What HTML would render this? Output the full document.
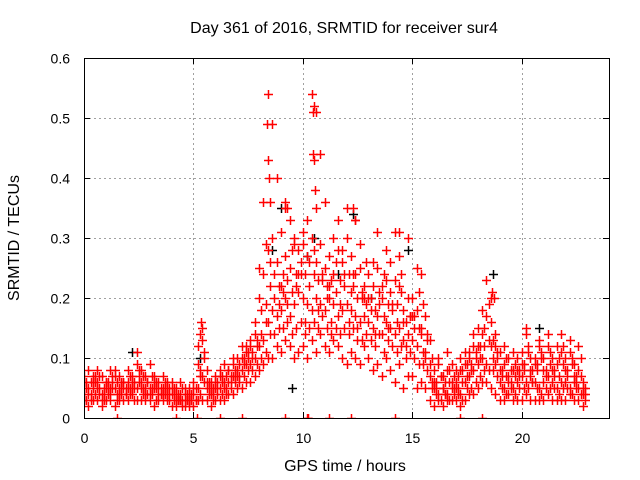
<!DOCTYPE html>
<html><head><meta charset="utf-8"><style>
html,body{margin:0;padding:0;background:#fff;}
svg{display:block;font-family:"Liberation Sans",sans-serif;}
</style></head><body>
<svg id="chart" width="640" height="480" viewBox="0 0 640 480">
<defs><clipPath id="pc"><rect x="84" y="58" width="525" height="360"/></clipPath></defs>
<text x="344" y="33" font-size="16" text-anchor="middle">Day 361 of 2016, SRMTID for receiver sur4</text>
<text x="345" y="471" font-size="16" text-anchor="middle">GPS time / hours</text>
<text transform="translate(19,238) rotate(-90)" font-size="16" text-anchor="middle">SRMTID / TECUs</text>
<g id="grid"></g>
<g id="marks" clip-path="url(#pc)"></g>
<g id="axes"></g>
</svg>
<script>
const xTicks=[0,5,10,15,20];
const yTicks=[0,0.1,0.2,0.3,0.4,0.5,0.6];
const yTickLabels=["0","0.1","0.2","0.3","0.4","0.5","0.6"];
const times=[0,0.2,0.4,0.6,0.8,1,1.2,1.4,1.6,1.8,2,2.2,2.4,2.6,2.8,3,3.2,3.4,3.6,3.8,4,4.2,4.4,4.6,4.8,5,5.2,5.4,5.6,5.8,6,6.2,6.4,6.6,6.8,7,7.2,7.4,7.6,7.8,8,8.2,8.4,8.6,8.8,9,9.2,9.4,9.6,9.8,10,10.2,10.4,10.6,10.8,11,11.2,11.4,11.6,11.8,12,12.2,12.4,12.6,12.8,13,13.2,13.4,13.6,13.8,14,14.2,14.4,14.6,14.8,15,15.2,15.4,15.6,15.8,16,16.2,16.4,16.6,16.8,17,17.2,17.4,17.6,17.8,18,18.2,18.4,18.6,18.8,19,19.2,19.4,19.6,19.8,20,20.2,20.4,20.6,20.8,21,21.2,21.4,21.6,21.8,22,22.2,22.4,22.6,22.8];
const timesHalf=[0.1,0.3,0.5,0.7,0.9,1.1,1.3,1.5,1.7,1.9,2.1,2.3,2.5,2.7,2.9,3.1,3.3,3.5,3.7,3.9,4.1,4.3,4.5,4.7,4.9,5.1,5.3,5.5,5.7,5.9,6.1,6.3,6.5,6.7,6.9,7.1,7.3,7.5,7.7,7.9,8.1,8.3,8.5,8.7,8.9,9.1,9.3,9.5,9.7,9.9,10.1,10.3,10.5,10.7,10.9,11.1,11.3,11.5,11.7,11.9,12.1,12.3,12.5,12.7,12.9,13.1,13.3,13.5,13.7,13.9,14.1,14.3,14.5,14.7,14.9,15.1,15.3,15.5,15.7,15.9,16.1,16.3,16.5,16.7,16.9,17.1,17.3,17.5,17.7,17.9,18.1,18.3,18.5,18.7,18.9,19.1,19.3,19.5,19.7,19.9,20.1,20.3,20.5,20.7,20.9,21.1,21.3,21.5,21.7,21.9,22.1,22.3,22.5,22.7,22.9];
const srmtidA=[4,5,5,6,4,5,4,5,5,6,5,6,5,5,4,5,5,4,5,4,4,3,4,3,4,4,5,7,5,4,5,5,6,6,7,7,8,9,9,10,12,13,16,18,17,18,20,17,19,21,20,19,18,20,19,18,20,19,17,18,19,18,17,16,17,16,15,17,14,16,15,14,15,13,14,13,12,14,11,7,5,4,5,4,5,5,4,6,7,8,9,10,9,12,9,6,5,6,5,6,7,6,8,6,5,6,7,6,5,6,6,5,6,5,4];
const srmtidB=[7,8,6,8,7,6,8,7,7,6,8,7,11,8,7,9,7,6,7,6,6,5,6,5,5,6,9,15,8,6,7,8,9,8,10,10,12,12,13,16,25,24,28,30,26,31,27,25,30,28,29,33,30,26,29,25,27,24,28,26,30,27,24,25,22,24,22,25,20,23,21,23,27,18,20,20,18,24,17,13,8,9,7,8,9,8,10,9,11,12,12,14,17,16,12,11,9,10,8,10,11,14,10,9,12,10,12,10,9,11,10,13,9,8,6];
const srmtidC=[3,2,3,3,2,3,3,2,3,3,3,4,3,3,3,3,2,3,3,3,2,2,3,2,2,2,3,3,3,2,3,3,3,4,4,5,5,6,6,7,8,9,10,10,12,11,13,12,10,11,12,10,13,11,14,12,11,13,12,10,9,11,10,9,12,10,8,9,7,10,8,6,9,5,7,7,5,6,5,3,2,3,2,3,3,3,2,3,4,4,5,6,6,5,4,3,3,4,3,3,3,4,3,3,3,3,4,3,3,3,3,4,3,3,2];
const srmtidD=[6,4,7,5,3,6,5,8,4,5,6,5,9,6,5,4,6,5,4,5,5,4,3,4,3,5,12,13,6,5,6,7,5,8,9,8,10,11,12,14,20,36,54,49,40,22,35,33,29,24,31,27,54,51,44,36,22,30,33,28,35,21,33,29,20,20,26,31,22,28,26,31,22,16,30,17,25,15,10,9,6,10,5,11,6,6,8,11,10,14,15,18,23,20,14,8,12,7,11,8,9,15,7,10,13,8,14,8,12,14,8,11,7,12,5];
const srmtidE=[3,4,4,5,3,4,5,3,4,4,4,5,6,4,4,5,3,4,4,3,3,3,3,3,3,3,4,6,4,3,4,4,5,5,6,6,7,8,8,9,10,11,14,14,15,15,16,14,15,16,16,15,16,15,17,15,16,15,14,15,14,15,13,13,14,13,12,14,11,13,12,11,12,10,11,10,9,11,8,5,4,3,4,3,4,4,3,5,5,6,7,8,8,8,7,5,4,5,4,5,5,5,6,5,4,5,5,5,4,5,5,4,5,4,3];
const srmtidF=[6,6,7,7,5,6,7,6,6,5,7,6,8,7,6,7,6,5,6,5,5,4,5,4,4,5,7,10,6,5,6,7,7,7,8,9,10,11,11,13,18,19,22,24,22,24,23,21,24,24,24,26,24,23,24,22,23,21,23,22,24,22,20,20,19,20,18,21,17,19,18,19,21,16,17,17,15,19,14,10,6,7,6,6,7,7,8,7,9,10,10,12,13,13,10,8,7,8,7,8,9,11,8,8,10,8,9,8,7,9,8,10,7,7,5];
const srmtidG=[5,3,6,4,4,5,6,4,5,4,5,3,7,5,6,4,5,4,5,4,4,3,2,3,3,3,8,11,5,4,5,6,4,6,7,7,9,10,10,12,14,16,26,20,19,21,19,28,22,26,14,22,28,18,23,20,14,26,19,24,16,24,15,21,26,18,14,19,24,15,19,16,24,12,17,15,21,9,13,6,5,7,4,8,5,5,6,9,8,11,12,15,19,10,11,7,10,6,9,7,8,12,6,9,11,7,11,7,10,12,7,9,6,10,4];
const extraTimes=[8.35,8.4,8.45,8.5,8.3,10.45,10.5,10.45,10.5,10.55,10.6,9.2,9.3,14.4,12.3,12.4,18.65,18.75,5.35,5.3];
const extraVals=[49,43,40,36,29,51,52,44,43,38,35,36,35,31,35,33,21,20,16,14];
const zeroTimes=[1.5,4.2,5.15,6.2,7.2,9.2,10.2,10.25,11.2,12.2,14.2,17.2,18.2];
const blackTimes=[2.2,5.3,8.6,9.0,9.5,10.2,10.5,12.3,14.8,18.7,20.8,13.1,11.6];
const blackVals=[11,10,28,35,5,27,30,34,28,24,15,20,24];

const X0=84,X1=609,Y0=418,Y1=58;
const xs=t=>X0+(t/24)*(X1-X0);
const ys=v=>Y0-(v/0.6)*(Y0-Y1);
const NS="http://www.w3.org/2000/svg";
const grid=document.getElementById('grid'),marks=document.getElementById('marks'),axes=document.getElementById('axes');
function line(g,x1,y1,x2,y2,st,dash){const l=document.createElementNS(NS,'line');l.setAttribute('x1',x1);l.setAttribute('y1',y1);l.setAttribute('x2',x2);l.setAttribute('y2',y2);l.setAttribute('stroke',st);if(dash)l.setAttribute('stroke-dasharray',dash);g.appendChild(l);return l;}
xTicks.forEach(t=>{const x=Math.round(xs(t))+0.5;
 if(t>0){const g=line(grid,x,Y1,x,Y0,'#a0a0a0','2,3');}
 line(axes,x,Y0,x,Y0-6,'#000');line(axes,x,Y1,x,Y1+6,'#000');
 const tx=document.createElementNS(NS,'text');tx.setAttribute('x',x);tx.setAttribute('y',443);tx.setAttribute('font-size','14');tx.setAttribute('text-anchor','middle');tx.textContent=String(t);
 
 
 axes.appendChild(tx);});
yTicks.forEach((v,i)=>{const y=Math.round(ys(v))+0.5;
 if(v>0&&v<0.6){const g=line(grid,X0,y,X1,y,'#a0a0a0','2,3');}
 line(axes,X0,y,X0+6,y,'#000');line(axes,X1,y,X1-6,y,'#000');
 const tx=document.createElementNS(NS,'text');tx.setAttribute('x',70);tx.setAttribute('y',y+5);tx.setAttribute('font-size','14');tx.setAttribute('text-anchor','end');tx.textContent=yTickLabels[i];
 
 
 axes.appendChild(tx);});
const fr=document.createElementNS(NS,'rect');fr.setAttribute('x',X0+0.5);fr.setAttribute('y',Y1+0.5);fr.setAttribute('width',X1-X0);fr.setAttribute('height',Y0-Y1);fr.setAttribute('fill','none');fr.setAttribute('stroke','#000');


axes.appendChild(fr);

function plus(t,v,col,name){const x=Math.round(xs(t))+0.5,y=Math.round(ys(v))+0.5;
 const p=document.createElementNS(NS,'path');p.setAttribute('d','M'+(x-4.5)+' '+y+'h9M'+x+' '+(y-4.5)+'v9');p.setAttribute('stroke',col);p.setAttribute('stroke-width','1.5');p.setAttribute('fill','none');
 
 
 marks.appendChild(p);}
blackTimes.forEach((t,i)=>plus(t,blackVals[i]/100,'#000','black-point'));
[srmtidC,srmtidA,srmtidB,srmtidD].forEach(arr=>arr.forEach((v,i)=>plus(times[i],v/100,'#f00','srmtid-point')));
[srmtidE,srmtidF,srmtidG].forEach(arr=>arr.forEach((v,i)=>plus(timesHalf[i],v/100,'#f00','srmtid-point')));
extraTimes.forEach((t,i)=>plus(t,extraVals[i]/100,'#f00','srmtid-point'));
zeroTimes.forEach(t=>plus(t,0,'#f00','zero-point'));
</script>
</body></html>
